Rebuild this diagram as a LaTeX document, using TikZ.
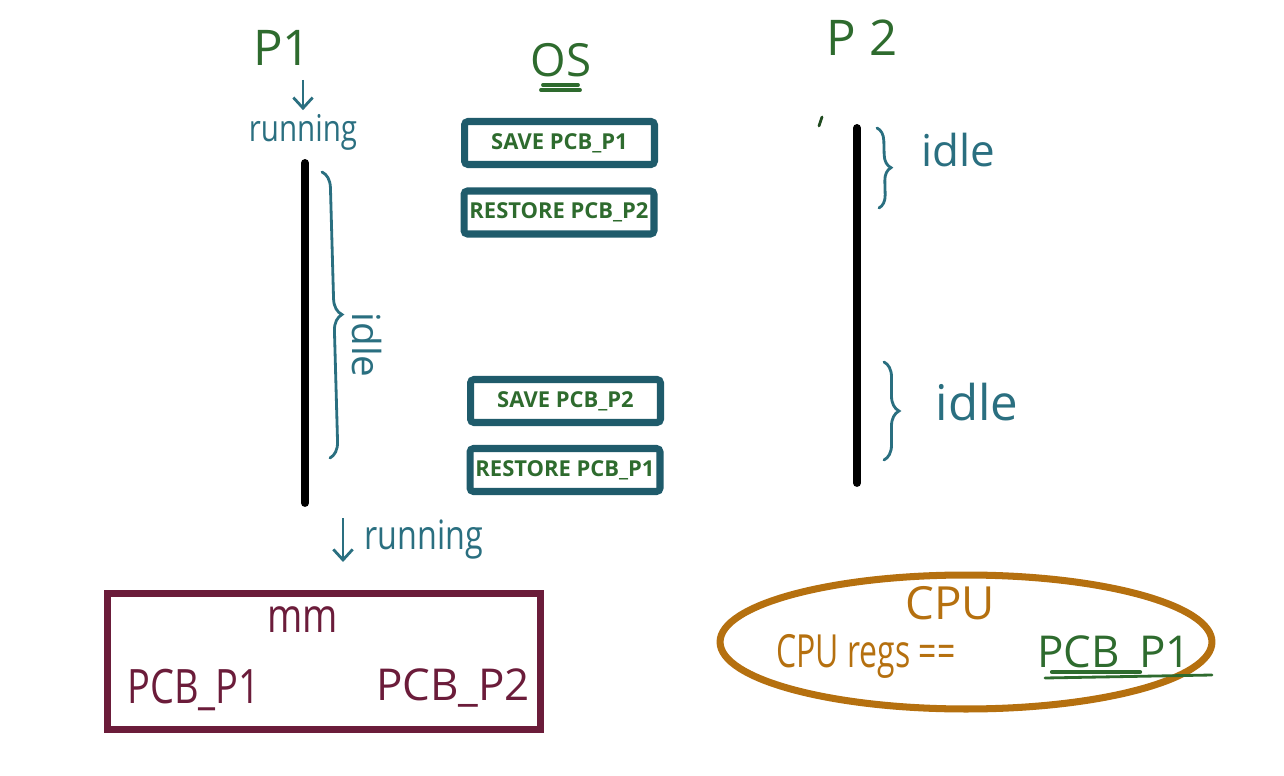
\documentclass[tikz,border=0pt]{standalone}
\usepackage{fontspec}
\setmainfont{Open Sans}
\newfontfamily\narrowfont[FakeStretch=0.8]{Open Sans}
\newfontfamily\narrowerfont[FakeStretch=0.7]{Open Sans}
\usetikzlibrary{shapes.geometric,decorations.pathreplacing,arrows.meta}
\definecolor{inkgreen}{HTML}{2E6B2E}
\definecolor{tealink}{HTML}{2A6F80}
\definecolor{boxteal}{HTML}{1F5B6B}
\definecolor{mmred}{HTML}{6B1C3A}
\definecolor{cpuorange}{HTML}{B5700F}
\begin{document}
\begin{tikzpicture}[x=0.02cm,y=-0.02cm,
  lbl/.style={inner sep=0pt, text=inkgreen, font=\fontsize{28}{30}\selectfont},
  tlbl/.style={inner sep=0pt, text=tealink, font=\fontsize{20}{22}\selectfont},
  idlelbl/.style={inner sep=0pt, text=tealink, font=\fontsize{25}{27}\selectfont},
  opbox/.style={draw=boxteal, line width=4pt, rounded corners=2pt, inner sep=0pt,
    minimum width=3.8cm, minimum height=0.86cm, text=inkgreen,
    font=\bfseries\fontsize{12.5}{14}\selectfont},
  timeline/.style={draw=black, line width=4.5pt, line cap=round},
  tbrace/.style={draw=tealink, line width=1.6pt, line cap=round, decorate},
  tarrow/.style={draw=tealink, line width=1.6pt, -{Straight Barb[length=6pt,width=11pt]}},
  mmbox/.style={draw=mmred, line width=4.5pt, inner sep=0pt, minimum width=8.66cm, minimum height=2.72cm},
  mmtext/.style={inner sep=0pt, text=mmred, font=\narrowfont\fontsize{27}{29}\selectfont},
  cpuell/.style={ellipse, draw=cpuorange, line width=4pt, inner sep=0pt, minimum width=9.84cm, minimum height=2.68cm},
  cputext/.style={inner sep=0pt, text=cpuorange, font=\fontsize{26}{28}\selectfont},
  uline/.style={draw=inkgreen, line width=1.6pt, line cap=round}
]
\useasboundingbox (0,0) rectangle (1284,776);

% P1 column
\node[lbl] (p1) at (282,48) {P1};
\node[tlbl, font=\narrowfont\fontsize{21}{23}\selectfont] (run1) at (303,132) {running};
\draw[tarrow, shorten <=8pt, shorten >=2pt] (p1.south -| run1.north) -- (run1.north);
\coordinate (p1top) at (305,163);
\coordinate (p1bot) at (305,503);
\draw[timeline] (p1top) -- (p1bot);
\coordinate (b1s) at (322,172);
\coordinate (b1e) at (330,458);
\draw[tbrace, decoration={brace, amplitude=3.2mm}] (b1s) -- (b1e);
\node[idlelbl, rotate=-90, font=\fontsize{22}{24}\selectfont] (idle1) at (367,345) {idle};
\coordinate (a2s) at (343,518);
\coordinate (a2e) at (343,562);
\draw[tarrow] (a2s) -- (a2e);
\node[tlbl, font=\narrowfont\fontsize{23}{25}\selectfont] (run2) at (424,540) {running};

% OS column
\node[lbl, font=\fontsize{26}{28}\selectfont] (os) at (561,60) {OS};
\coordinate (u1s) at (543,85); \coordinate (u1e) at (578,85);
\coordinate (u2s) at (541,90); \coordinate (u2e) at (580,90);
\draw[uline, line width=2.2pt] (u1s) -- (u1e);
\draw[uline, line width=2.2pt] (u2s) -- (u2e);
\node[opbox] (s1) at (559.5,143) {SAVE PCB\_P1};
\node[opbox] (r2) at (559,212.5) {RESTORE PCB\_P2};
\node[opbox] (s2) at (565.5,401) {SAVE PCB\_P2};
\node[opbox] (r1) at (565,470) {RESTORE PCB\_P1};

% P2 column
\node[lbl] (p2) at (862,38) {P 2};
\coordinate (t1) at (822,117); \coordinate (t2) at (819,126);
\draw[uline, draw=inkgreen!70!black] (t1) -- (t2);
\coordinate (p2top) at (857,128);
\coordinate (p2bot) at (857,483);
\draw[timeline] (p2top) -- (p2bot);
\coordinate (b2s) at (877,128);
\coordinate (b2e) at (879,208);
\draw[tbrace, decoration={brace, amplitude=2.6mm}] (b2s) -- (b2e);
\node[idlelbl] (idle2) at (958,150) {idle};
\coordinate (b3s) at (884,362);
\coordinate (b3e) at (884,460);
\draw[tbrace, decoration={brace, amplitude=3mm}] (b3s) -- (b3e);
\node[idlelbl, font=\fontsize{28}{30}\selectfont] (idle3) at (977,402) {idle};

% Main memory
\node[mmbox] (mm) at (324,661.5) {};
\node[mmtext] (mmlbl) at (303,620) {mm};
\node[mmtext] (pcb1) at (194,690) {PCB\_P1};
\node[mmtext, font=\fontsize{25}{27}\selectfont] (pcb2) at (453,688) {PCB\_P2};

% CPU
\node[cpuell] (cpu) at (966,642) {};
\node[cputext] (cpulbl) at (950,603) {CPU};
\node[cputext, font=\narrowerfont\fontsize{26}{28}\selectfont] (regs) at (866,656) {CPU regs ==};
\node[cputext, text=inkgreen, font=\fontsize{25}{27}\selectfont] (cpupcb) at (1114,655) {PCB\_P1};
\coordinate (c1s) at (1045,678); \coordinate (c1e) at (1212,675);
\coordinate (c2s) at (1052,672); \coordinate (c2e) at (1140,672);
\draw[uline] (c1s) -- (c1e);
\draw[uline, line width=2.4pt] (c2s) -- (c2e);
\end{tikzpicture}
\end{document}
